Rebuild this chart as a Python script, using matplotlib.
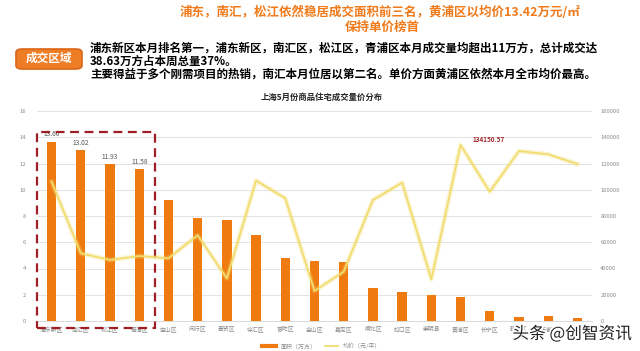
import numpy as np
import matplotlib.pyplot as plt
from matplotlib.lines import Line2D
from matplotlib.patches import FancyBboxPatch, Rectangle
import matplotlib.patheffects as pe

plt.rcParams['font.family'] = ['Noto Sans CJK SC', 'DejaVu Sans']

# data
districts = ["浦东新区", "南汇区", "松江区", "青浦区", "宝山区", "闵行区", "奉贤区",
             "徐汇区", "普陀区", "金山区", "嘉定区", "闸北区", "虹口区", "崇明县",
             "黄浦区", "长宁区", "静安区", "杨浦区", "卢湾区"]
area = [13.66, 13.02, 11.93, 11.58, 9.22, 7.88, 7.72, 6.55, 4.82, 4.55, 4.47,
        2.49, 2.19, 1.98, 1.85, 0.80, 0.32, 0.35, 0.25]
price = [106100, 51600, 46500, 49500, 47800, 65300, 32500, 107000, 93500, 22900,
         37600, 92200, 105400, 31800, 134150.57, 98500, 129500, 127000, 119600]
top_labels = ["13.66", "13.02", "11.93", "11.58"]

ORANGE = "#ef7b10"
YELLOW = "#f2dc6e"
GREY = "#8c8c8c"

fig = plt.figure(figsize=(6.4, 3.51), dpi=100)

# headline
fig.text(0.594, 1 - 12 / 351, "浦东，南汇，松江依然稳居成交面积前三名，黄浦区以均价13.42万元/㎡",
         ha="center", va="center", color="#f07a1a", fontsize=9.0, fontweight="bold")
fig.text(0.598, 1 - 27.5 / 351, "保持单价榜首",
         ha="center", va="center", color="#f07a1a", fontsize=9.0, fontweight="bold")

# tag box
fig.patches.append(FancyBboxPatch((16 / 640, 1 - 69 / 351), 66 / 640, 20 / 351,
                                  boxstyle="round,pad=0.0,rounding_size=0.01",
                                  transform=fig.transFigure, facecolor="#ee7d26",
                                  edgecolor="#d9661a", linewidth=1.2))
fig.text(49 / 640, 1 - 58.5 / 351, "成交区域", ha="center", va="center",
         color="white", fontsize=8.4, fontweight="bold")

body = ["浦东新区本月排名第一，浦东新区，南汇区，松江区，青浦区本月成交量均超出11万方，总计成交达",
        "38.63万方占本周总量37%。",
        "主要得益于多个刚需项目的热销，南汇本月位居以第二名。单价方面黄浦区依然本月全市均价最高。"]
for i, line in enumerate(body):
    fig.text(90 / 640, 1 - (48 + 13 * i) / 351, line, ha="left", va="center",
             color="black", fontsize=8.3, fontweight="bold")

fig.text(322 / 640, 1 - 97 / 351, "上海5月份商品住宅成交量价分布", ha="center", va="center",
         fontsize=6.0, fontweight="bold", color="#222222")

# chart
ax = fig.add_axes([37 / 640, 1 - 321 / 351, 555 / 640, 210 / 351])
x = np.arange(len(districts))
ax.bar(x, area, width=0.32, color=ORANGE, zorder=2)
ax.set_xlim(-0.5, len(districts) - 0.5)
ax.set_ylim(0, 16)
ax.set_yticks(np.arange(0, 17, 2))
ax.set_xticks(x)
ax.set_xticklabels(districts, fontsize=4.2, color=GREY)
ax.tick_params(axis="y", labelsize=4.2, colors=GREY, length=0, pad=8)
ax.tick_params(axis="x", length=0, pad=4)
ax.grid(axis="y", color="#e3e3e3", linewidth=0.7, zorder=0)
ax.set_axisbelow(True)
for s in ax.spines.values():
    s.set_visible(False)
ax.spines["bottom"].set_visible(True)
ax.spines["bottom"].set_color("#d9d9d9")
ax.spines["bottom"].set_linewidth(0.7)

for i, lab in enumerate(top_labels):
    ax.text(x[i], area[i] + 0.25, lab, ha="center", va="bottom", fontsize=4.8, color="#555555")

ax2 = ax.twinx()
ax2.plot(x, price, color=YELLOW, linewidth=3.5, alpha=0.3, zorder=3)
ax2.plot(x, price, color=YELLOW, linewidth=1.3, zorder=4)
ax2.set_ylim(0, 160000)
ax2.set_yticks(np.arange(0, 160001, 20000))
ax2.tick_params(axis="y", labelsize=4.2, colors=GREY, length=0, pad=6)
for s in ax2.spines.values():
    s.set_visible(False)
ax2.text(x[14] + 0.4, price[14] + 1500, "134150.57", ha="left", va="bottom",
         fontsize=4.6, fontweight="bold", color="#a3282c")

# red dashed highlight box
ax.add_patch(Rectangle((-0.5, -0.55), 4.03, 14.95, fill=False, edgecolor="#9e1f26",
                       linewidth=1.6, linestyle=(0, (4, 2.5)), clip_on=False, zorder=5))

# legend
handles = [Line2D([0], [0], color=ORANGE, linewidth=3),
           Line2D([0], [0], color=YELLOW, linewidth=1.3)]
fig.legend(handles, ["面积（万方）", "均价（元/平）"], loc="center",
           bbox_to_anchor=(322 / 640, 1 - 346 / 351), ncol=2, frameon=False,
           fontsize=4.3, handlelength=2.2, columnspacing=1.5, labelcolor=GREY)

# watermark
fig.text(572 / 640, 1 - 334 / 351, "头条 @创智资讯", ha="center", va="center",
         fontsize=12, color="#222222",
         path_effects=[pe.withStroke(linewidth=2.5, foreground="white")])

fig.savefig("out.png", dpi=100)
